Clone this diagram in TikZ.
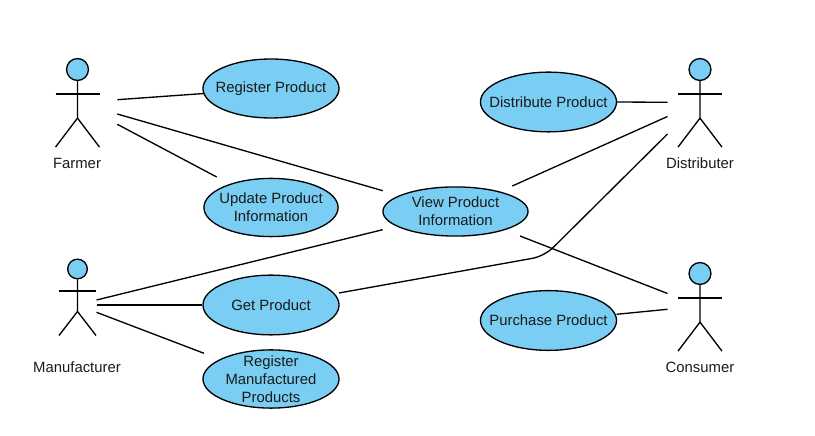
\documentclass[tikz,border=0pt]{standalone}
\usepackage{fontspec}
\setmainfont{Liberation Sans}
\usepackage{xcolor}
\usetikzlibrary{shapes.geometric}
\definecolor{usecaseblue}{HTML}{7ACEF4}
\definecolor{labelgrey}{HTML}{1A1A1A}
\tikzset{
  usecase/.style={draw, ellipse, fill=usecaseblue, align=center, text=labelgrey, minimum width=3.6cm, minimum height=1.58cm, inner xsep=-6mm, inner ysep=-3mm, font=\fontsize{11.2pt}{13.5pt}\selectfont},
  actorlabel/.style={text=labelgrey, inner sep=0pt, font=\fontsize{11.2pt}{13.5pt}\selectfont},
  actorhead/.style={draw, circle, fill=usecaseblue, inner sep=0pt},
  link/.style={line width=1pt}
}
% #1 name, #2 head centre, #3 head size, #4 half arm span, #5 neck, #6 arm to hip, #7 leg drop
\newcommand{\actorfig}[7]{
  \node[actorhead, minimum size=#3] (#1head) at (#2) {};
  \draw[link] (#1head.south) -- ++(0,#5+#6) coordinate (#1hip) -- ++(-#4,#7);
  \draw[link] (#1hip) -- ++(#4,#7);
  \draw[link] (#1head.south) ++(-#4,#5) -- ++(2*#4,0);
}
\begin{document}
\begin{tikzpicture}[x=0.026454cm, y=-0.026454cm, line width=1pt]
  \useasboundingbox (0,0) rectangle (815,436);
  % actors
  \actorfig{farmer}{77.5,69.5}{0.58cm}{22}{13}{24}{29}
  \actorfig{distributer}{700,69.5}{0.58cm}{22}{13}{24}{29}
  \actorfig{manufacturer}{77.5,269}{0.52cm}{18.5}{11.6}{20.4}{24}
  \actorfig{consumer}{700,273.5}{0.58cm}{22}{13}{24}{29}
  \node[actorlabel] (farmerlabel) at (77,163.5) {Farmer};
  \node[actorlabel] (distributerlabel) at (700,163.5) {Distributer};
  \node[actorlabel] (manufacturerlabel) at (77,367) {Manufacturer};
  \node[actorlabel] (consumerlabel) at (700,367) {Consumer};
  % use cases
  \node[usecase, minimum height=1.56cm] (register) at (271,88.5) {Register Product};
  \node[usecase, minimum width=3.55cm, minimum height=1.54cm] (update) at (271,207.5) {Update Product\\Information};
  \node[usecase, minimum width=3.84cm, minimum height=1.3cm] (view) at (455.5,211.5) {View Product\\Information};
  \node[usecase] (get) at (271,305) {Get Product};
  \node[usecase, minimum height=1.54cm] (manufactured) at (271,379) {Register\\Manufactured\\Products};
  \node[usecase] (distribute) at (548.5,102) {Distribute Product};
  \node[usecase] (purchase) at (548.5,320.5) {Purchase Product};
  % free ends next to the actors
  \coordinate (farmerA) at (117.3,99.7);
  \coordinate (farmerB) at (117.3,114);
  \coordinate (farmerC) at (117.3,124.3);
  \coordinate (distributerA) at (667.5,102.3);
  \coordinate (distributerB) at (667.5,116.5);
  \coordinate (distributerC) at (667.5,134);
  \coordinate (manufacturerA) at (96.5,300);
  \coordinate (manufacturerB) at (96.5,305);
  \coordinate (manufacturerC) at (96.5,312.3);
  \coordinate (consumerA) at (667.5,293.5);
  \coordinate (consumerB) at (667.5,309.3);
  \coordinate (bend) at (544.4,256.2);
  % connectors
  \draw[link] (farmerA) -- ([shift={(-67,5)}]register.center);
  \draw[link] (farmerB) -- ([shift={(-72.8,-20.8)}]view.center);
  \draw[link] (farmerC) -- ([shift={(-54.3,-30.5)}]update.center);
  \draw[link] (distribute.east) -- (distributerA);
  \draw[link] ([shift={(56.8,-25.5)}]view.center) -- (distributerB);
  \draw[link] (manufacturerA) -- ([shift={(-72.8,18.2)}]view.center);
  \draw[link] (manufacturerB) -- (get.west);
  \draw[link] (manufacturerC) -- ([shift={(-67,-25.7)}]manufactured.center);
  \draw[link, rounded corners=9pt] ([shift={(68,-12)}]get.center) -- (bend) -- (distributerC);
  \draw[link] ([shift={(64.5,24.5)}]view.center) -- (consumerA);
  \draw[link] ([shift={(68,-6.2)}]purchase.center) -- (consumerB);
\end{tikzpicture}
\end{document}
